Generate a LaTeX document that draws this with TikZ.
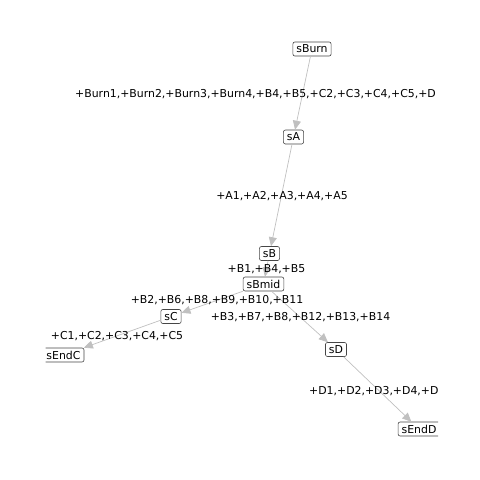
\documentclass[tikz,border=0pt]{standalone}
\usepackage{fontspec}
\setmainfont{DejaVu Sans}
\usetikzlibrary{arrows.meta}
\definecolor{edgegray}{RGB}{192,192,192}
\definecolor{boxgray}{RGB}{70,70,70}
\tikzset{
  state/.style={draw=boxgray, line width=0.6pt, fill=white, rounded corners=2pt,
    inner xsep=3.5pt, inner ysep=1.5pt, minimum height=14pt, font=\fontsize{10.9}{12}\selectfont},
  lbl/.style={inner sep=0pt, font=\fontsize{10.9}{12}\selectfont},
  edge/.style={draw=edgegray, line width=0.7pt, -{Triangle[length=9pt,width=8pt,fill=edgegray]}},
}
\begin{document}
\begin{tikzpicture}[x=1pt,y=-1pt]
\useasboundingbox (0,0) rectangle (480,480);
\begin{scope}
\clip (45.5,0) rectangle (438,480);
\node[state] (sBurn) at (312,49) {sBurn};
\node[state] (sA) at (293.5,137) {sA};
\node[state] (sB) at (269.5,253.5) {sB};
\node[state] (sBmid) at (263.5,284) {sBmid};
\node[state] (sC) at (171,316.5) {sC};
\node[state] (sD) at (336,349.5) {sD};
\node[state] (sEndC) at (63.5,355) {sEndC};
\node[state] (sEndD) at (419,429) {sEndD};
\draw[edge] (sBurn) -- (sA);
\draw[edge] (sA) -- (sB);
\draw[edge] (sB) -- (sBmid);
\draw[edge] (sBmid) -- (sC);
\draw[edge] (sBmid) -- (sD);
\draw[edge] (sC) -- (sEndC);
\draw[edge] (sD) -- (sEndD);
\node[lbl, anchor=west] (l1) at (75,94) {+Burn1,+Burn2,+Burn3,+Burn4,+B4,+B5,+C2,+C3,+C4,+C5,+D};
\node[lbl] (l2) at (282,196) {+A1,+A2,+A3,+A4,+A5};
\node[lbl] (l3) at (266.5,269) {+B1,+B4,+B5};
\node[lbl] (l4) at (217,300) {+B2,+B6,+B8,+B9,+B10,+B11};
\node[lbl] (l5) at (300.5,317) {+B3,+B7,+B8,+B12,+B13,+B14};
\node[lbl] (l6) at (117,336) {+C1,+C2,+C3,+C4,+C5};
\node[lbl, anchor=west] (l7) at (309,391) {+D1,+D2,+D3,+D4,+D};
\end{scope}
\end{tikzpicture}
\end{document}
